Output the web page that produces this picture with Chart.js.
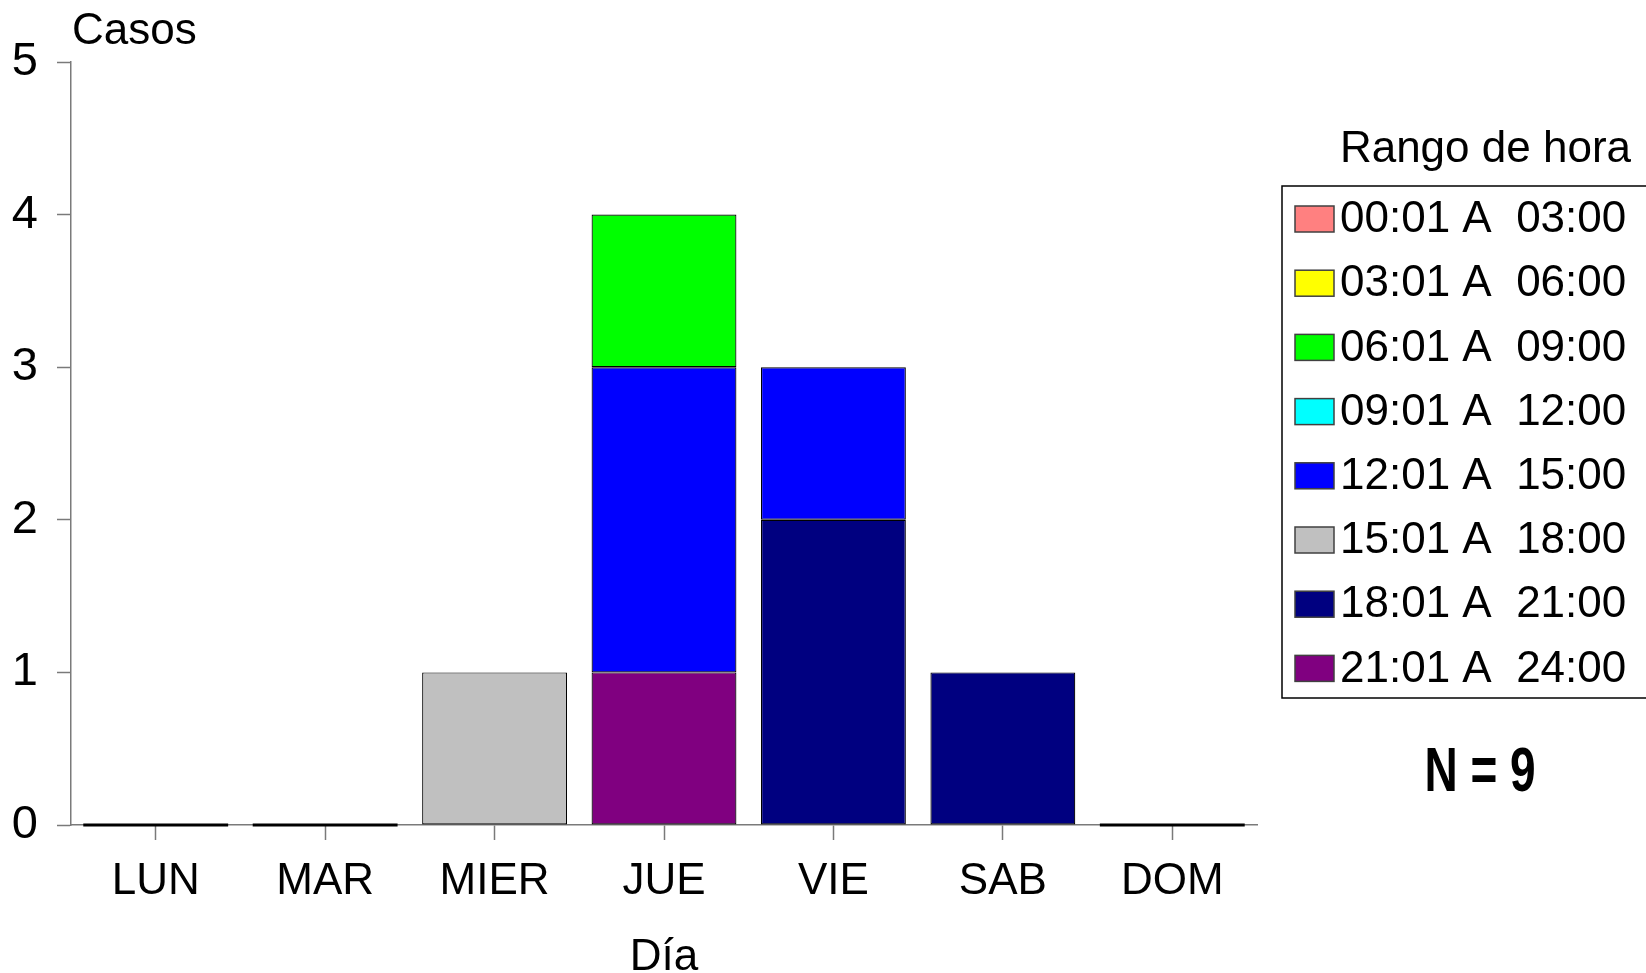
<!DOCTYPE html>
<html>
<head>
<meta charset="utf-8">
<script src="https://cdn.jsdelivr.net/npm/chart.js@4"></script>
<style>
  html, body { margin: 0; padding: 0; background: #fff; }
  #wrap { width: 1646px; height: 973px; }
</style>
</head>
<body>
<div id="wrap"><canvas id="casosChart" width="1646" height="973"></canvas></div>
<script>
// categorias (dias de la semana)
const dias = ['LUN', 'MAR', 'MIER', 'JUE', 'VIE', 'SAB', 'DOM'];

// rangos de hora, en el orden de la leyenda
const rangos = [
    '00:01 A  03:00',
    '03:01 A  06:00',
    '06:01 A  09:00',
    '09:01 A  12:00',
    '12:01 A  15:00',
    '15:01 A  18:00',
    '18:01 A  21:00',
    '21:01 A  24:00'
];
const colores = ['#ff8080', '#ffff00', '#00ff00', '#00ffff', '#0000ff', '#c0c0c0', '#000080', '#800080'];

// casos por dia para cada rango
const r00_03 = [0, 0, 0, 0, 0, 0, 0];
const r03_06 = [0, 0, 0, 0, 0, 0, 0];
const r06_09 = [0, 0, 0, 1, 0, 0, 0];
const r09_12 = [0, 0, 0, 0, 0, 0, 0];
const r12_15 = [0, 0, 0, 2, 1, 0, 0];
const r15_18 = [0, 0, 1, 0, 0, 0, 0];
const r18_21 = [0, 0, 0, 0, 2, 1, 0];
const r21_24 = [0, 0, 0, 1, 0, 0, 0];
const series = [r00_03, r03_06, r06_09, r09_12, r12_15, r15_18, r18_21, r21_24];

const yTicks = [0, 1, 2, 3, 4, 5];
const totalN = 'N = 9';

const FONT = "'Liberation Sans', Arial, sans-serif";
const AXIS_GRAY = '#7a7a7a';

document.addEventListener('DOMContentLoaded', function() {
    const ctx = document.getElementById('casosChart').getContext('2d');

    const datasets = series.map(function(vals, i) {
        return {
            label: rangos[i],
            data: vals,
            backgroundColor: colores[i],
            borderColor: '#000',
            borderWidth: 1.2,
            borderSkipped: false,
            order: series.length - 1 - i   // last range sits at the bottom of the stack
        };
    });

    // zero-height bars show as a black line on the axis
    const zeroBars = {
        id: 'zeroBars',
        afterDatasetsDraw: function(chart) {
            const c = chart.ctx;
            const meta = chart.getDatasetMeta(0);
            dias.forEach(function(d, i) {
                let total = 0;
                series.forEach(function(s) { total += s[i]; });
                if (total !== 0) return;
                const p = meta.data[i].getProps(['x', 'y', 'width'], true);
                c.save();
                c.strokeStyle = '#000';
                c.lineWidth = 3;
                c.beginPath();
                c.moveTo(p.x - p.width / 2, p.y);
                c.lineTo(p.x + p.width / 2, p.y);
                c.stroke();
                c.restore();
            });
        }
    };

    // texts and legend box around the plot
    const extras = {
        id: 'extras',
        afterDraw: function(chart) {
            const c = chart.ctx;
            const area = chart.chartArea;
            c.save();
            c.fillStyle = '#000';

            // y axis caption
            c.font = '44px ' + FONT;
            c.textAlign = 'left';
            c.textBaseline = 'middle';
            c.fillText('Casos', area.left + 1, 32);

            // legend title
            c.font = '44px ' + FONT;
            c.textAlign = 'right';
            c.fillText('Rango de hora', 1631, 150);

            // legend box
            c.strokeStyle = '#000';
            c.lineWidth = 1.5;
            c.strokeRect(1282, 186, 400, 512);

            c.font = '44px ' + FONT;
            c.textAlign = 'left';
            chart.data.datasets.forEach(function(ds, i) {
                const yc = 219 + i * 64.2;
                c.fillStyle = ds.backgroundColor;
                c.fillRect(1295, yc - 13, 39, 26);
                c.strokeStyle = '#404040';
                c.lineWidth = 1.5;
                c.strokeRect(1295, yc - 13, 39, 26);
                c.fillStyle = '#000';
                c.fillText(ds.label, 1340, yc + 1);
            });

            // total
            c.font = 'bold 63px ' + FONT;
            c.textAlign = 'center';
            c.translate(1480, 774);
            c.scale(0.73, 1);
            c.fillText(totalN, 0, 0);
            c.restore();
        }
    };

    new Chart(ctx, {
        type: 'bar',
        data: { labels: dias, datasets: datasets },
        plugins: [zeroBars, extras],
        options: {
            responsive: false,
            animation: false,
            events: [],
            layout: { padding: { top: 62, right: 389, left: 0, bottom: 0 } },
            datasets: {
                bar: { categoryPercentage: 1.0, barPercentage: 0.855 }
            },
            plugins: {
                legend: { display: false },
                tooltip: { enabled: false }
            },
            scales: {
                x: {
                    stacked: true,
                    offset: true,
                    afterFit: function(axis) { axis.height = 148; },
                    grid: {
                        offset: false,
                        drawOnChartArea: false,
                        drawTicks: true,
                        tickLength: 15,
                        tickWidth: 1.5,
                        tickColor: AXIS_GRAY
                    },
                    border: { display: true, color: AXIS_GRAY, width: 1.5 },
                    ticks: {
                        color: '#000',
                        padding: 15,
                        maxRotation: 0,
                        font: { family: FONT, size: 44 }
                    },
                    title: {
                        display: true,
                        text: 'Día',
                        color: '#000',
                        padding: { top: 0, bottom: 0 },
                        font: { family: FONT, size: 44, lineHeight: 0.68 }
                    }
                },
                y: {
                    stacked: true,
                    min: 0,
                    max: 5,
                    afterFit: function(axis) { axis.width = 71; },
                    afterBuildTicks: function(axis) {
                        axis.ticks = yTicks.map(function(v) { return { value: v }; });
                    },
                    grid: {
                        drawOnChartArea: false,
                        drawTicks: true,
                        tickLength: 14,
                        tickWidth: 1.5,
                        tickColor: AXIS_GRAY
                    },
                    border: { display: true, color: AXIS_GRAY, width: 1.5 },
                    ticks: {
                        color: '#000',
                        padding: 19,
                        font: { family: FONT, size: 47 }
                    }
                }
            }
        }
    });
});
</script>
</body>
</html>
